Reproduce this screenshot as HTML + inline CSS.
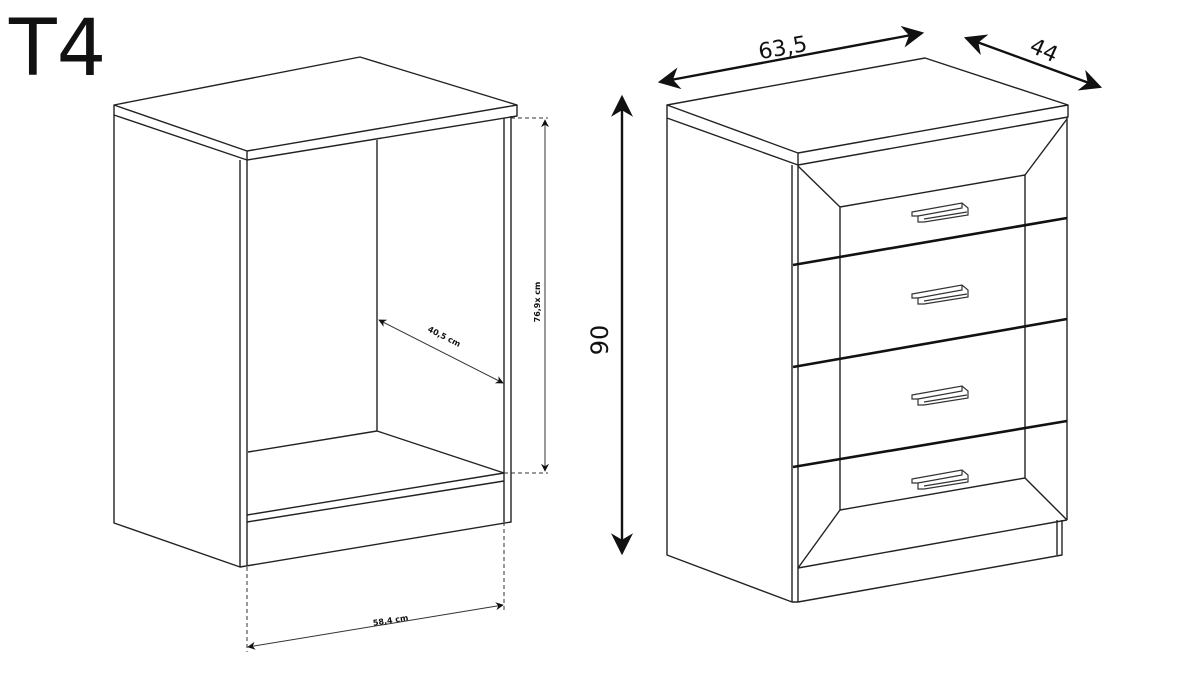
<!DOCTYPE html>
<html><head><meta charset="utf-8"><style>
html,body{margin:0;padding:0;background:#fff;}
svg{display:block;}
text{font-family:"DejaVu Sans","Liberation Sans",sans-serif;fill:#111;}
</style></head><body>
<svg width="1200" height="676" viewBox="0 0 1200 676" xmlns="http://www.w3.org/2000/svg">
<defs>
<marker id="ah" viewBox="0 0 10 10" refX="9" refY="5" markerWidth="8" markerHeight="8" orient="auto-start-reverse" markerUnits="userSpaceOnUse"><path d="M0,0 L10,5 L0,10 L3,5 z" fill="#111"/></marker>
<marker id="AH" viewBox="0 0 10 10" refX="9" refY="5" markerWidth="26" markerHeight="22" orient="auto-start-reverse" markerUnits="userSpaceOnUse"><path d="M0,0 L10,5 L0,10 L3,5 z" fill="#111"/></marker>
</defs>
<text x="9" y="75" font-size="78" font-family="Liberation Sans, sans-serif">T4</text>

<g fill="none" stroke="#222" stroke-width="1.4" stroke-linejoin="round">
<polygon points="114,105 360,57 517,105 247,151" />
<polyline points="114,105 114,115 247,160 517,116 517,105"/>
<line x1="247" y1="151" x2="247" y2="160"/>
<polyline points="114,115 114,523 240,567 511,522 511,116"/>
<line x1="240" y1="160" x2="240" y2="567"/>
<line x1="247" y1="160" x2="247" y2="565"/>
<line x1="504" y1="118" x2="504" y2="522"/>
<line x1="247" y1="515" x2="504" y2="473"/>
<line x1="247" y1="522" x2="504" y2="481"/>
<line x1="377" y1="140" x2="377" y2="431"/>
<polyline points="248,452 377,431 504,473"/>
</g>
<g fill="none" stroke="#333" stroke-width="1">
<line x1="511" y1="118" x2="548" y2="118" stroke-dasharray="4,3"/>
<line x1="504" y1="473" x2="548" y2="473" stroke-dasharray="4,3"/>
<line x1="545" y1="120" x2="545" y2="471" marker-start="url(#ah)" marker-end="url(#ah)"/>
<line x1="379" y1="320" x2="503" y2="383" marker-start="url(#ah)" marker-end="url(#ah)"/>
<line x1="247" y1="567" x2="247" y2="652" stroke-dasharray="4,3"/>
<line x1="504" y1="522" x2="504" y2="610" stroke-dasharray="4,3"/>
<line x1="248" y1="647" x2="503" y2="605" marker-start="url(#ah)" marker-end="url(#ah)"/>
</g>
<text font-size="8" font-weight="bold" transform="translate(540,302) rotate(-90)" text-anchor="middle">76,9x cm</text>
<text font-size="8" font-weight="bold" transform="translate(443,339) rotate(27)" text-anchor="middle">40,5 cm</text>
<text font-size="8" font-weight="bold" transform="translate(391,623) rotate(-9)" text-anchor="middle">58,4 cm</text>

<g fill="none" stroke="#222" stroke-width="1.4" stroke-linejoin="round">
<polygon points="667,105 925,58 1068,105 798,153"/>
<polyline points="667,105 667,118 798,165 1068,117 1068,105"/>
<line x1="798" y1="153" x2="798" y2="165"/>
<polyline points="667,118 667,555 792,602 798,602 1062,555 1062,520"/>
<line x1="1057" y1="520" x2="1057" y2="555"/>
<line x1="792" y1="165" x2="792" y2="602"/>
<line x1="798" y1="165" x2="798" y2="602"/>
<line x1="1067" y1="117" x2="1067" y2="520"/>
<polygon points="840,207 1025,175 1025,478 840,510"/>
<line x1="798" y1="166" x2="840" y2="207"/>
<line x1="1067" y1="119" x2="1025" y2="175"/>
<line x1="1067" y1="520" x2="1025" y2="478"/>
<line x1="798" y1="568" x2="840" y2="510"/>
<line x1="798" y1="568" x2="1067" y2="520"/>
</g>
<g stroke="#111" stroke-width="2.6">
<line x1="793" y1="265" x2="1067" y2="218"/>
<line x1="793" y1="367" x2="1067" y2="319"/>
<line x1="793" y1="467" x2="1067" y2="421"/>
</g>
<g fill="none" stroke="#333" stroke-width="1.2">
<g id="h"><polygon points="912,212 962,203 968,208 968,215 924,222 918,222 918,216 912,216"/><polyline points="918,216 962,208 962,203"/><line x1="924" y1="219" x2="967" y2="212"/></g>
<use href="#h" transform="translate(0,82)"/>
<use href="#h" transform="translate(0,183)"/>
<use href="#h" transform="translate(0,267)"/>
</g>
<g stroke="#111" stroke-width="2.4" fill="none">
<line x1="660" y1="82" x2="922" y2="33" marker-start="url(#AH)" marker-end="url(#AH)"/>
<line x1="966" y1="38" x2="1100" y2="87" marker-start="url(#AH)" marker-end="url(#AH)"/>
<line x1="622" y1="97" x2="622" y2="553" marker-start="url(#AH)" marker-end="url(#AH)"/>
</g>
<text font-size="22" transform="translate(784,55) rotate(-10)" text-anchor="middle">63,5</text>
<text font-size="22" transform="translate(1041,57) rotate(24)" text-anchor="middle">44</text>
<text font-size="24" transform="translate(608,340) rotate(-90)" text-anchor="middle">90</text>
</svg>
</body></html>
